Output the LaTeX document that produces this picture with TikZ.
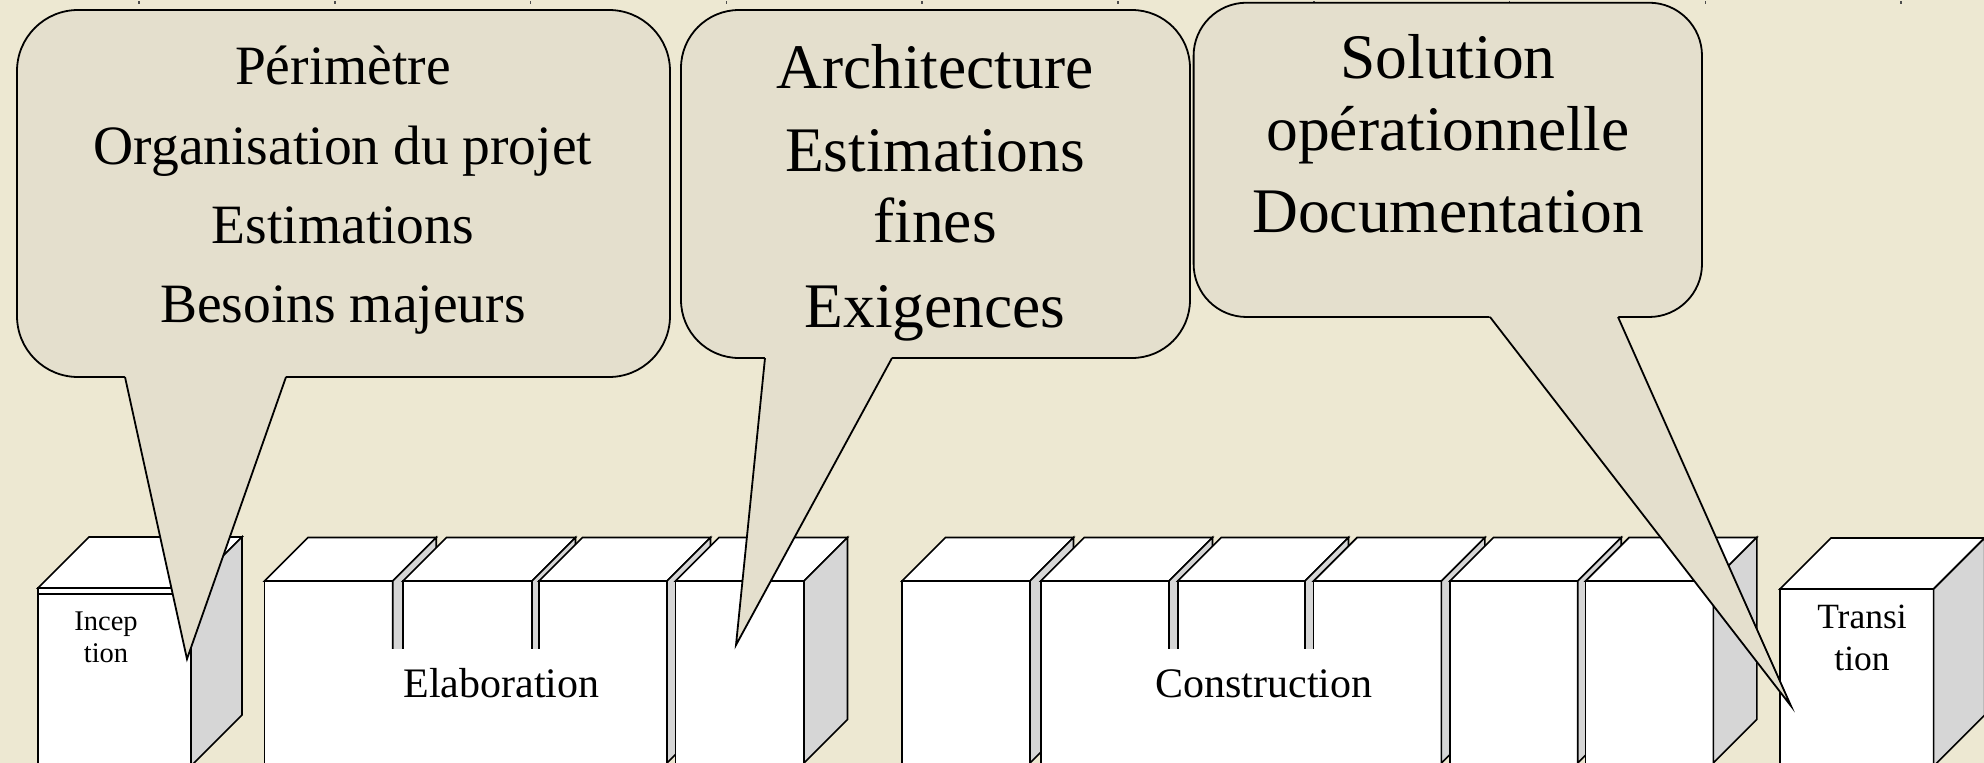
\documentclass[tikz,border=0pt]{standalone}
\usepackage{fontspec}
\setmainfont{Liberation Serif}
\definecolor{bgcol}{RGB}{237,232,210}
\definecolor{callfill}{RGB}{228,223,205}
\definecolor{sidegray}{RGB}{214,214,214}
\tikzset{
  boxline/.style={draw=black, line width=1.6pt, line join=miter},
  callbody/.style={draw=black, fill=callfill, line width=1.8pt, inner sep=0pt},
  tailline/.style={draw=black, line width=1.8pt, line join=miter},
  ctexta/.style={anchor=base, inner sep=0pt, font=\fontsize{55.5pt}{60pt}\selectfont},
  ctextb/.style={anchor=base, inner sep=0pt, font=\fontsize{63.5pt}{68pt}\selectfont},
  phaselbl/.style={anchor=base, inner sep=0pt, font=\fontsize{42pt}{46pt}\selectfont},
  smalllbla/.style={anchor=base, inner sep=0pt, font=\fontsize{28.5pt}{32pt}\selectfont},
  smalllblb/.style={anchor=base, inner sep=0pt, font=\fontsize{35.5pt}{40pt}\selectfont},
  tick/.style={draw=black!70, line width=1.6pt}
}
% x0, x1, ytop, depth, ybottom
\newcommand\phasebox[5]{%
  \filldraw[boxline, fill=white] (#1,#3) rectangle (#2,800);
  \filldraw[boxline, fill=white] (#1,#3) -- (#1+#4,#3-#4) -- (#2+#4,#3-#4) -- (#2,#3) -- cycle;
  \filldraw[boxline, fill=sidegray] (#2,#3) -- (#2+#4,#3-#4) -- (#2+#4,#5-#4) -- (#2,#5) -- cycle;
}
\begin{document}
\begin{tikzpicture}[x=1pt,y=-1pt]
\useasboundingbox (0,0) rectangle (1984,763);
\clip (0,0) rectangle (1984,763);
\fill[bgcol] (0,0) rectangle (1984,763);
% ticks at top
\foreach \k in {0,...,9} {
  \draw[tick] (139+195.8*\k,1) -- (139+195.8*\k,4);
}
% Inception
\phasebox{38}{191}{588}{51}{766}
\draw[boxline] (38,594) -- (191,594);
% Elaboration
\phasebox{264.5}{392.7}{581}{43.5}{763}
\phasebox{403}{532}{581}{43.5}{763}
\phasebox{539}{667}{581}{43.5}{763}
\phasebox{675.5}{804}{581}{43.5}{763}
% Construction
\phasebox{902}{1030}{581}{43.5}{763}
\phasebox{1040.7}{1169}{581}{43.5}{763}
\phasebox{1177.7}{1305}{581}{43.5}{763}
\phasebox{1313.6}{1441.4}{581}{43.5}{763}
\phasebox{1450}{1577.7}{581}{43.5}{763}
\phasebox{1585.6}{1713.3}{581}{43.5}{763}
% Transition
\phasebox{1780}{1933.6}{589}{51}{766}
% label backgrounds
\fill[white] (300,649) rectangle (640,800);
\fill[white] (1100,649) rectangle (1420,800);
% phase labels
\node[smalllbla] (inc1) at (106,630) {Incep};
\node[smalllbla] (inc2) at (106,662) {tion};
\node[phaselbl] (elab) at (501.5,697) {Elaboration};
\node[phaselbl] (constr) at (1264,697) {Construction};
\node[smalllblb] (tra1) at (1862,628) {Transi};
\node[smalllblb] (tra2) at (1862,670) {tion};
% callout 1
\node[callbody, rounded corners=61pt, minimum width=653pt, minimum height=367pt] (c1) at (343.5,193.5) {};
\coordinate (c1l) at (125,377);
\coordinate (c1r) at (286,377);
\coordinate (c1t) at (187,659);
\fill[callfill] (124.3,373.5) -- (c1t) -- (286.8,373.5) -- cycle;
\draw[tailline] (c1l) -- (c1t) -- (c1r);
\node[ctexta] (c1a) at (343,84) {Périmètre};
\node[ctexta] (c1b) at (343,164) {Organisation du projet};
\node[ctexta] (c1c) at (343,243) {Estimations};
\node[ctexta] (c1d) at (343,322) {Besoins majeurs};
% callout 2
\node[callbody, rounded corners=58pt, minimum width=509pt, minimum height=348pt] (c2) at (935.5,184) {};
\coordinate (c2l) at (765,358);
\coordinate (c2r) at (892,358);
\coordinate (c2t) at (736,645);
\fill[callfill] (765.3,354.5) -- (c2t) -- (893.5,354.5) -- cycle;
\draw[tailline] (c2l) -- (c2t) -- (c2r);
\node[ctextb] (c2a) at (935,88) {Architecture};
\node[ctextb] (c2b) at (935,171) {Estimations};
\node[ctextb] (c2c) at (935,242) {fines};
\node[ctextb] (c2d) at (935,327) {Exigences};
% callout 3
\node[callbody, rounded corners=53pt, minimum width=508.4pt, minimum height=314.3pt] (c3) at (1447.8,159.85) {};
\coordinate (c3l) at (1490,317);
\coordinate (c3r) at (1618,317);
\coordinate (c3t) at (1791,706);
\fill[callfill] (1487.3,313.5) -- (c3t) -- (1617,313.5) -- cycle;
\draw[tailline] (c3l) -- (c3t) -- (c3r);
\node[ctextb] (c3a) at (1448,78.5) {Solution};
\node[ctextb] (c3b) at (1448,150.5) {opérationnelle};
\node[ctextb] (c3c) at (1448,232) {Documentation};
\end{tikzpicture}
\end{document}
